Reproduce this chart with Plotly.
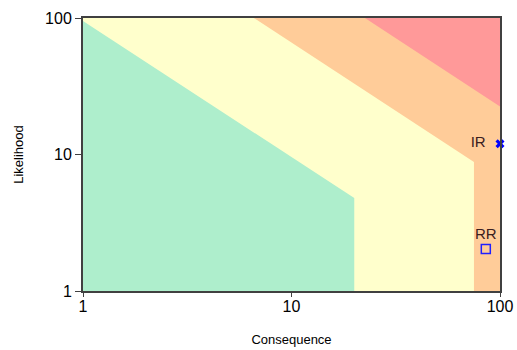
import plotly.graph_objects as go

# Risk zones (consequence, likelihood vertices)
orange_x = [1, 1, 100, 100]
orange_y = [1, 100, 100, 1]
yellow_x = [1, 1, 6.6, 75, 75]
yellow_y = [1, 100, 100, 8.8, 1]
green_x = [1, 1, 20, 20]
green_y = [1, 95, 4.8, 1]
red_x = [22.5, 100, 100]
red_y = [100, 100, 22.5]

# Risk points
ir_x, ir_y = [100], [12]
rr_x, rr_y = [85.5], [2.03]
tick_vals = [1, 10, 100]
tick_text = ["1", "10", "100"]

fig = go.Figure()
for xs, ys, col in [(orange_x, orange_y, "#FFCC99"), (yellow_x, yellow_y, "#FFFFCC"),
                    (green_x, green_y, "#AEEECC"), (red_x, red_y, "#FF9999")]:
    fig.add_trace(go.Scatter(x=xs, y=ys, fill="toself", fillcolor=col, mode="lines",
                             line=dict(width=0, color=col), hoverinfo="skip", showlegend=False))

fig.add_trace(go.Scatter(x=ir_x, y=ir_y, mode="markers+text", text=["IR  "], textposition="middle left",
                         textfont=dict(size=15, color="#3a2020", family="Liberation Sans"),
                         marker=dict(symbol="x", size=8, color="#0000FF", line=dict(width=0)),
                         cliponaxis=False, showlegend=False))
fig.add_trace(go.Scatter(x=rr_x, y=rr_y, mode="markers+text", text=["RR"], textposition="top center",
                         textfont=dict(size=15, color="#3a2020", family="Liberation Sans"),
                         marker=dict(symbol="square-open", size=9, color="#2020FF", line=dict(width=1.5)),
                         cliponaxis=False, showlegend=False))

axis_common = dict(type="log", range=[0, 2], tickvals=tick_vals, ticktext=tick_text,
                   ticks="outside", tickcolor="#404040", tickwidth=1,
                   showline=True, mirror=True, linecolor="#404040", linewidth=2,
                   showgrid=False, zeroline=False,
                   tickfont=dict(size=16, color="#000000", family="Liberation Sans"))
fig.update_layout(
    width=517, height=350,
    margin=dict(l=83, r=17, t=18, b=59, autoexpand=False),
    paper_bgcolor="white", plot_bgcolor="white",
    xaxis=dict(**axis_common, ticklen=4, ticklabelstandoff=-4,
               title=dict(text="Consequence", standoff=21,
                          font=dict(size=13, family="Liberation Sans", color="#000"))),
    yaxis=dict(**axis_common, ticklen=6,
               title=dict(text="Likelihood", standoff=19,
                          font=dict(size=13, family="Liberation Sans", color="#000"))),
)
fig.write_html("out.html", config={"displayModeBar": False},
               post_script="document.body.style.margin='0';")
